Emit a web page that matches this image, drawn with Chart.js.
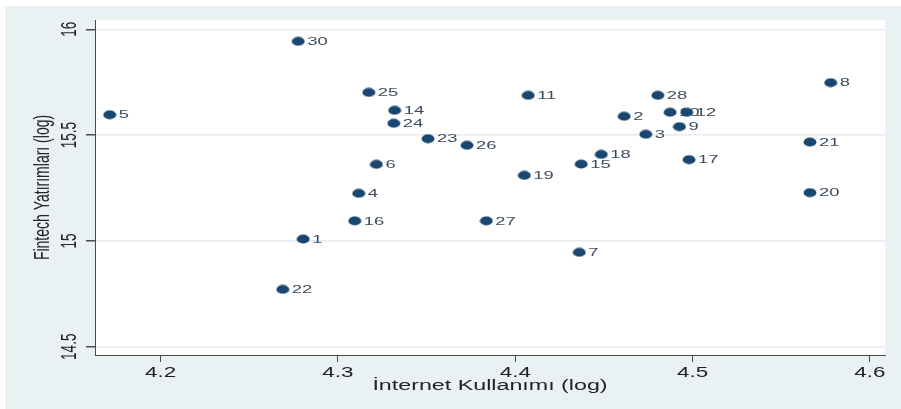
<!DOCTYPE html>
<html>
<head>
<meta charset="utf-8">
<script src="https://cdn.jsdelivr.net/npm/chart.js@4"></script>
<style>
  html, body { margin: 0; padding: 0; background: #ffffff; }
  #wrap { width: 901px; height: 409px; }
</style>
</head>
<body>
<div id="wrap"><canvas id="c" width="901" height="409"></canvas></div>
<script>
// ---- data ----
const pointLabels = ["1","2","3","4","5","6","7","8","9","10","11","12","14","15","16","17","18","19","20","21","22","23","24","25","26","27","28","30"];
const xValues = [4.2804,4.4614,4.4736,4.3117,4.1713,4.3217,4.4361,4.5779,4.4926,4.4873,4.4073,4.4967,4.3320,4.4372,4.3095,4.4980,4.4485,4.4051,4.5662,4.5662,4.2689,4.3508,4.3315,4.3174,4.3728,4.3837,4.4804,4.2776];
const yValues = [15.009,15.589,15.504,15.225,15.596,15.362,14.946,15.748,15.540,15.608,15.688,15.608,15.617,15.363,15.095,15.384,15.409,15.310,15.228,15.467,14.771,15.483,15.556,15.702,15.452,15.095,15.688,15.943];
const xTicks = [4.2, 4.3, 4.4, 4.5, 4.6];
const yTicks = [14.5, 15, 15.5, 16];
const xTickLabels = ["4.2", "4.3", "4.4", "4.5", "4.6"];
const yTickLabels = ["14.5", "15", "15.5", "16"];
const xTitle = "İnternet Kullanımı (log)";
const yTitle = "Fintech Yatırımları (log)";

// ---- styles ----
const MARKER = "#1a476f";
const BG = "#eaf1f3";
const GRID = "#e4ecef";
const AXIS = "#4a4a4a";
const LABEL = "#3d4b5c";
const TEXT = "#222222";
const FONT = "'Liberation Sans', Arial, sans-serif";
const SX = 1.6;

// ellipse marker
const dot = document.createElement('canvas');
dot.width = 14; dot.height = 10;
(function(){
  const g = dot.getContext('2d');
  g.fillStyle = MARKER;
  g.beginPath();
  g.ellipse(7, 5, 6.5, 4.4, 0, 0, Math.PI * 2);
  g.fill();
})();

const data = pointLabels.map((l, i) => ({ x: xValues[i], y: yValues[i] }));

function stretchText(ctx, text, x, y, size, color, align, rotate, sx) {
  ctx.save();
  ctx.translate(x, y);
  ctx.scale(sx, 1);
  if (rotate) ctx.rotate(-Math.PI / 2);
  ctx.font = size + "px " + FONT;
  ctx.fillStyle = color;
  ctx.textAlign = align;
  ctx.textBaseline = 'middle';
  ctx.fillText(text, 0, 0);
  ctx.restore();
}

const decor = {
  id: 'decor',
  beforeDraw(chart) {
    const ctx = chart.ctx, a = chart.chartArea;
    ctx.save();
    ctx.fillStyle = '#ffffff';
    ctx.fillRect(0, 0, chart.width, chart.height);
    ctx.fillStyle = BG;
    ctx.fillRect(5, 6, chart.width - 5, chart.height - 6);
    ctx.fillStyle = '#ffffff';
    ctx.fillRect(a.left, a.top, a.right - a.left, a.bottom - a.top);
    ctx.restore();
  },
  beforeDatasetsDraw(chart) {
    const ctx = chart.ctx;
    const xs = chart.scales.x, ys = chart.scales.y;
    pointLabels.forEach((l, i) => {
      const px = xs.getPixelForValue(xValues[i]);
      const py = ys.getPixelForValue(yValues[i]);
      stretchText(ctx, l, px + 9, py + 0.5, 11.5, LABEL, 'left', false, SX);
    });
  },
  afterDraw(chart) {
    const ctx = chart.ctx, a = chart.chartArea;
    const xs = chart.scales.x, ys = chart.scales.y;
    xTicks.forEach((v, i) => {
      stretchText(ctx, xTickLabels[i], xs.getPixelForValue(v), a.bottom + 18, 14, TEXT, 'center', false, SX);
    });
    yTicks.forEach((v, i) => {
      stretchText(ctx, yTickLabels[i], a.left - 25, ys.getPixelForValue(v), 13.5, TEXT, 'center', true, SX);
    });
    stretchText(ctx, xTitle, (a.left + a.right) / 2, a.bottom + 31, 15.5, TEXT, 'center', false, 1.5);
    stretchText(ctx, yTitle, a.left - 52, (a.top + a.bottom) / 2, 14, TEXT, 'center', true, SX);
  }
};

new Chart(document.getElementById('c'), {
  type: 'scatter',
  data: {
    datasets: [{
      label: yTitle,
      data: data,
      pointStyle: dot,
      pointRadius: 6,
      pointHoverRadius: 6,
      backgroundColor: MARKER,
      borderColor: MARKER
    }]
  },
  options: {
    responsive: false,
    animation: false,
    devicePixelRatio: 1,
    layout: { padding: { left: 5, top: 20, right: 16, bottom: 0 } },
    plugins: { legend: { display: false }, tooltip: { enabled: false } },
    scales: {
      x: {
        type: 'linear',
        min: 4.163,
        max: 4.6085,
        afterBuildTicks: s => { s.ticks = xTicks.map(v => ({ value: v })); },
        afterFit: s => { s.height = 54; },
        ticks: { display: false },
        grid: { display: true, drawOnChartArea: false, drawTicks: true, tickLength: 7, tickColor: AXIS },
        border: { display: true, color: AXIS, width: 1 }
      },
      y: {
        type: 'linear',
        min: 14.461,
        max: 16.044,
        afterBuildTicks: s => { s.ticks = yTicks.map(v => ({ value: v })); },
        afterFit: s => { s.width = 90; },
        ticks: { display: false },
        grid: { display: true, color: GRID, lineWidth: 1.5, drawTicks: true, tickLength: 9, tickColor: AXIS },
        border: { display: true, color: AXIS, width: 1 }
      }
    }
  },
  plugins: [decor]
});
</script>
</body>
</html>
